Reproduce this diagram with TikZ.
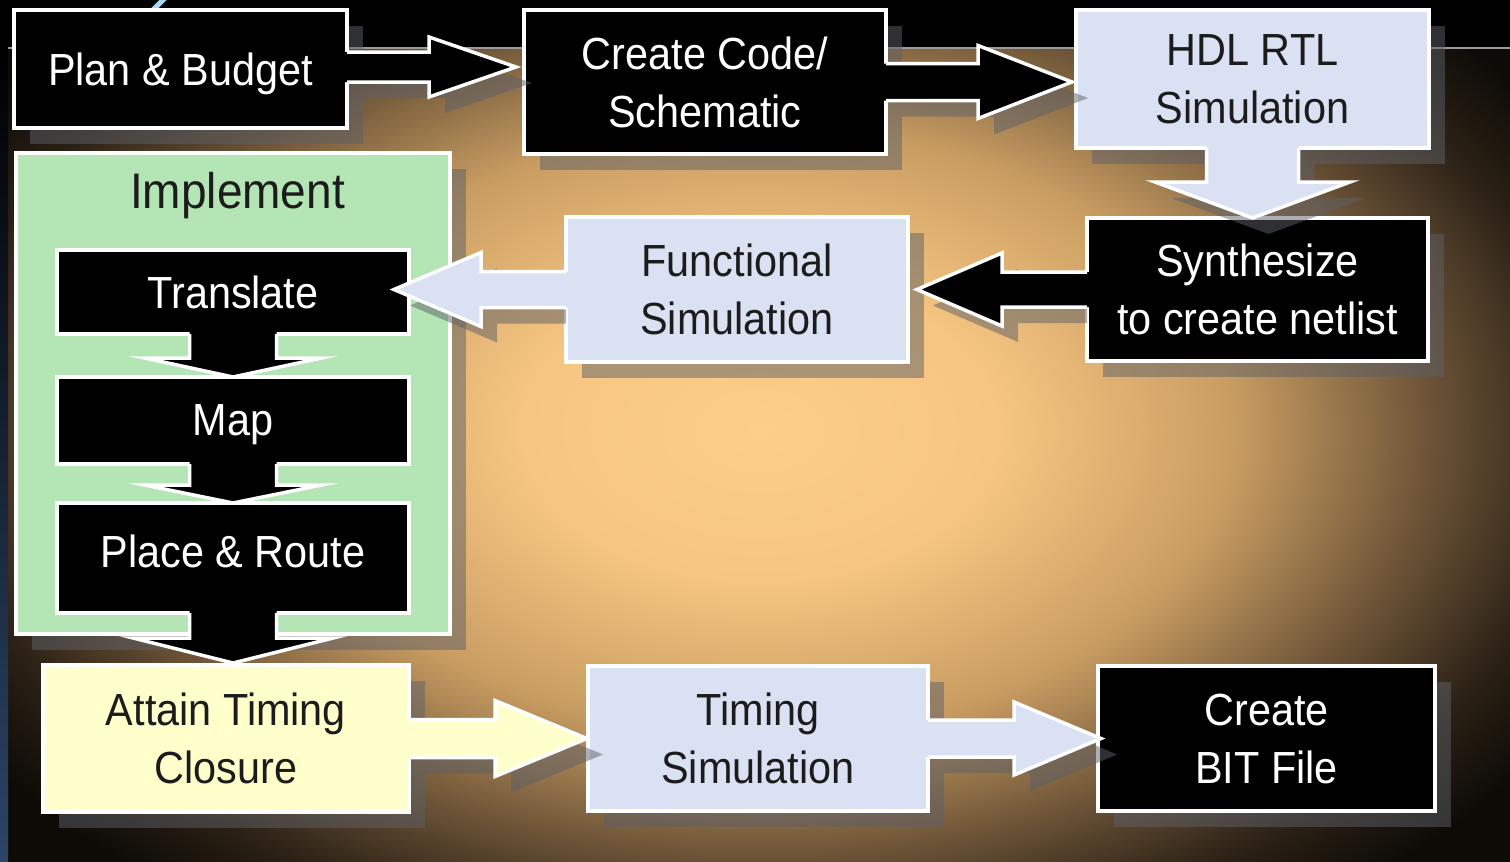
\documentclass[tikz,border=0pt]{standalone}
\usepackage{fontspec}
\setmainfont{Liberation Sans}[FakeStretch=0.92]
\usetikzlibrary{calc,shadows}

% palette
\definecolor{boxblue}{HTML}{D9E1F2}
\definecolor{boxgreen}{HTML}{B4E5B4}
\definecolor{boxyellow}{HTML}{FFFFCC}
\definecolor{inkdark}{HTML}{1C1C1C}
\definecolor{shadowgrey}{HTML}{5C6068}
\definecolor{sepgrey}{HTML}{9A9A9A}
\definecolor{decoblue}{HTML}{A0DCF5}
\definecolor{stripblue}{HTML}{2C4466}
\definecolor{glowA}{HTML}{FCCE8A}
\definecolor{glowB}{HTML}{F6C581}
\definecolor{glowC}{HTML}{C99D62}
\definecolor{glowD}{HTML}{6A5236}
\definecolor{glowE}{HTML}{2A2015}
\definecolor{glowF}{HTML}{0E0B07}

% warm backdrop glow
\pgfdeclareradialshading{glow}{\pgfpointorigin}{%
  color(0bp)=(glowA); color(6.5bp)=(glowB); color(13bp)=(glowC);
  color(18.5bp)=(glowD); color(22.5bp)=(glowE); color(25.5bp)=(glowF);
  color(50bp)=(glowF)}

\newcommand{\boxfont}{\fontsize{45}{58}\selectfont}
\newcommand{\implfont}{\fontsize{50}{60}\selectfont}

\tikzset{
  box/.style={draw=white, line width=3.5, inner sep=0pt, outer sep=0pt,
    text depth=0pt, align=center, font=\boxfont},
  dropsh/.style={drop shadow={shadow xshift=16pt, shadow yshift=-16pt,
    fill=shadowgrey, opacity=0.5}},
  darkbox/.style={box, fill=black, text=white},
  bluebox/.style={box, fill=boxblue, text=inkdark},
  yellowbox/.style={box, fill=boxyellow, text=inkdark},
  arrowline/.style={draw=white, line width=3.5, line join=miter},
  arrowshadow/.style={fill=shadowgrey, opacity=0.5},
}

% Outline points of a horizontal block arrow.
% #1 source anchor, #2 tip, #3 shaft half width, #4 head half width,
% #5 signed head length, #6 signed overlap into the source box,
% #7 signed start offset of the shadow
\newcommand\hpoints[7]{%
  \path let \p1=(#1), \p2=(#2) in
    ({\x1-(#6)},{\y2+(#3)}) coordinate (pa)
    (\x1,{\y2+(#3)}) coordinate (pb)
    ({\x2-(#5)},{\y2+(#3)}) coordinate (pc)
    ({\x2-(#5)},{\y2+(#4)}) coordinate (pd)
    (\x2,\y2) coordinate (pe)
    ({\x2-(#5)},{\y2-(#4)}) coordinate (pf)
    ({\x2-(#5)},{\y2-(#3)}) coordinate (pg)
    (\x1,{\y2-(#3)}) coordinate (ph)
    ({\x1-(#6)},{\y2-(#3)}) coordinate (pk)
    ({\x1+(#7)},{\y2+(#3)}) coordinate (sa)
    ({\x1+(#7)},{\y2-(#3)}) coordinate (sb);
}
% Same for a downward block arrow.
\newcommand\vpoints[7]{%
  \path let \p1=(#1), \p2=(#2) in
    ({\x2+(#3)},{\y1+(#6)}) coordinate (pa)
    ({\x2+(#3)},\y1) coordinate (pb)
    ({\x2+(#3)},{\y2+(#5)}) coordinate (pc)
    ({\x2+(#4)},{\y2+(#5)}) coordinate (pd)
    (\x2,\y2) coordinate (pe)
    ({\x2-(#4)},{\y2+(#5)}) coordinate (pf)
    ({\x2-(#3)},{\y2+(#5)}) coordinate (pg)
    ({\x2-(#3)},\y1) coordinate (ph)
    ({\x2-(#3)},{\y1+(#6)}) coordinate (pk)
    ({\x2+(#3)},{\y1-(#7)}) coordinate (sa)
    ({\x2-(#3)},{\y1-(#7)}) coordinate (sb);
}
\newcommand\drawblock[1]{%
  \fill[arrowshadow, transform canvas={xshift=16pt,yshift=-16pt}]
    (sa) -- (pc) -- (pd) -- (pe) -- (pf) -- (pg) -- (sb) -- cycle;
  \fill[#1] (pa) -- (pc) -- (pd) -- (pe) -- (pf) -- (pg) -- (pk) -- cycle;
  \draw[arrowline] (pb) -- (pc) -- (pd) -- (pe) -- (pf) -- (pg) -- (ph);
}
\newcommand\drawflatblock[1]{%
  \fill[#1] (pa) -- (pc) -- (pd) -- (pe) -- (pf) -- (pg) -- (pk) -- cycle;
  \draw[arrowline] (pb) -- (pc) -- (pd) -- (pe) -- (pf) -- (pg) -- (ph);
}

\begin{document}
\begin{tikzpicture}[x=1pt, y=-1pt]
  \useasboundingbox (0,0) rectangle (1510,862);

  % backdrop
  \fill[black] (0,0) rectangle (1510,862);
  \begin{scope}
    \clip (8,49) rectangle (1510,862);
    \shade[shading=glow] (-152,-150) rectangle (1672,1010);
  \end{scope}
  \shade[top color=black, bottom color=stripblue] (0,48) rectangle (8,862);
  \draw[sepgrey, line width=1.2] (8,48) -- (1510,48);
  \draw[decoblue, line width=5] (166,-3) -- (152,11);

  % top row
  \node[darkbox, dropsh, minimum width=333, minimum height=118] (plan) at (180.5,69) {Plan \& Budget};
  \node[darkbox, dropsh, minimum width=362, minimum height=144] (create) at (705,82) {Create Code/\\Schematic};
  \node[bluebox, dropsh, minimum width=353, minimum height=138] (hdl) at (1252.5,79) {HDL RTL\\Simulation};

  % middle row
  \node[darkbox, dropsh, minimum width=341, minimum height=143] (synth) at (1257.5,289.5) {Synthesize\\to create netlist};
  \node[bluebox, dropsh, minimum width=342, minimum height=145] (func) at (737,289.5) {Functional\\Simulation};

  % implementation group
  \node[box, fill=boxgreen, dropsh, minimum width=434, minimum height=481] (impl) at (233,393.5) {};
  \node[font=\implfont, text=inkdark, anchor=base, inner sep=0pt] (impllabel) at (237.5,208) {Implement};
  \node[darkbox, minimum width=352, minimum height=84] (translate) at (233,292) {Translate};
  \node[darkbox, minimum width=352, minimum height=87] (map) at (233,420.5) {Map};
  \node[darkbox, text depth=14pt, minimum width=352, minimum height=110] (place) at (233,558) {Place \& Route};

  % bottom row
  \node[yellowbox, dropsh, minimum width=366, minimum height=147] (attain) at (226,738.5) {Attain Timing\\Closure};
  \node[bluebox, dropsh, minimum width=340, minimum height=145] (timing) at (758,738.5) {Timing\\Simulation};
  \node[darkbox, dropsh, minimum width=337, minimum height=145] (bit) at (1266.5,738.5) {Create\\BIT File};

  % block arrows
  \hpoints{plan.east}{$(create.west|-plan.east)+(-8,-2)$}{15}{30}{87}{6}{0}
  \drawblock{black}
  \hpoints{create.east}{$(hdl.west|-create.east)+(-4,0)$}{18.5}{36.5}{94}{6}{0}
  \drawblock{black}
  \vpoints{hdl.south}{hdl.south|-synth.north}{46}{97.5}{36}{6}{0}
  \drawblock{boxblue}
  \hpoints{synth.west}{$(func.east)+(9,0)$}{17.5}{36.5}{-85}{-6}{-16}
  \drawblock{black}
  \hpoints{func.west}{$(translate.east|-func.west)+(-15,0)$}{18}{37}{-87}{-6}{-16}
  \drawblock{boxblue}

  \vpoints{translate.south}{map.north}{43.5}{88.5}{19}{6}{0}
  \drawflatblock{black}
  \vpoints{map.south}{place.north}{43.5}{88.5}{18}{6}{0}
  \drawflatblock{black}
  \vpoints{place.south}{$(place.south|-attain.north)+(0,-2)$}{43.5}{100}{25}{6}{0}
  \drawflatblock{black}

  \hpoints{attain.east}{$(timing.west)+(-1,0)$}{19}{38}{92}{6}{0}
  \drawblock{boxyellow}
  \hpoints{timing.east}{$(bit.west)+(3,0)$}{18.5}{36.5}{87}{6}{0}
  \drawblock{boxblue}
\end{tikzpicture}
\end{document}
